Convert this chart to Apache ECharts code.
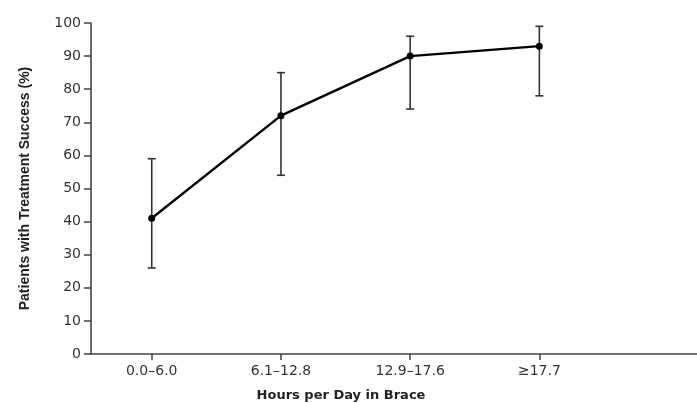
<!DOCTYPE html>
<html><head><meta charset="utf-8">
<script src="https://cdn.jsdelivr.net/npm/echarts@6/dist/echarts.min.js"></script>
<style>html,body{margin:0;padding:0;background:#fff}#c{width:697px;height:403px}</style>
</head><body><div id="c"></div>
<script>
const categories = ['0.0\u20136.0', '6.1\u201312.8', '12.9\u201317.6', '\u226517.7'];
const successPct = [41, 72, 90, 93];
const lowerCI = [26, 54, 74, 78];
const upperCI = [59, 85, 96, 99];
const yTicks = [0, 10, 20, 30, 40, 50, 60, 70, 80, 90, 100];

const lineData = categories.map((c, i) => [i, successPct[i]]);
const errData = categories.map((c, i) => [i, lowerCI[i], upperCI[i]]);
const catIdx = categories.map((c, i) => i);

const chart = echarts.init(document.getElementById('c'), null, {renderer: 'canvas'});
const axisFont = 'DejaVu Sans';
chart.setOption({
  animation: false,
  backgroundColor: '#fff',
  grid: {left: 91, right: 0, top: 23, bottom: 49, containLabel: false},
  xAxis: {
    type: 'value', min: -0.47, max: 4.22,
    axisLine: {show: true, onZero: false, lineStyle: {color: '#444', width: 1.6}},
    axisTick: {show: true, customValues: catIdx, length: 6, lineStyle: {color: '#444', width: 1.5}},
    axisLabel: {customValues: catIdx, formatter: v => categories[Math.round(v)], color: '#333',
      fontFamily: axisFont, fontSize: 14, margin: 10},
    splitLine: {show: false}
  },
  yAxis: {
    type: 'value', min: 0, max: 100, interval: 10,
    name: 'Patients with Treatment Success (%)', nameLocation: 'middle', nameGap: 59,
    nameTextStyle: {fontFamily: "'Liberation Sans', sans-serif", fontSize: 14, fontWeight: 'bold', color: '#222'},
    axisLine: {show: true, onZero: false, lineStyle: {color: '#444', width: 1.6}},
    axisTick: {show: true, length: 7, lineStyle: {color: '#444', width: 1.5}},
    axisLabel: {color: '#333', fontFamily: axisFont, fontSize: 14, margin: 10,
      formatter: v => yTicks.includes(v) ? String(v) : ''},
    splitLine: {show: false}
  },
  graphic: [{
    type: 'text', x: 341, y: 396,
    style: {text: 'Hours per Day in Brace', textAlign: 'center', textVerticalAlign: 'middle',
      font: "bold 13px 'DejaVu Sans'", fill: '#222'}
  }],
  series: [
    {
      type: 'custom', data: errData, z: 2,
      renderItem: function (params, api) {
        const x = api.value(0);
        const lo = api.coord([x, api.value(1)]);
        const hi = api.coord([x, api.value(2)]);
        const w = 4;
        const st = {stroke: '#333', lineWidth: 1.6};
        return {type: 'group', children: [
          {type: 'line', shape: {x1: lo[0], y1: lo[1], x2: hi[0], y2: hi[1]}, style: st},
          {type: 'line', shape: {x1: lo[0] - w, y1: lo[1], x2: lo[0] + w, y2: lo[1]}, style: st},
          {type: 'line', shape: {x1: hi[0] - w, y1: hi[1], x2: hi[0] + w, y2: hi[1]}, style: st}
        ]};
      }
    },
    {
      type: 'line', data: lineData, z: 3,
      symbol: 'circle', symbolSize: 7,
      lineStyle: {color: '#000', width: 2.4},
      itemStyle: {color: '#000'}
    }
  ]
});
</script></body></html>
